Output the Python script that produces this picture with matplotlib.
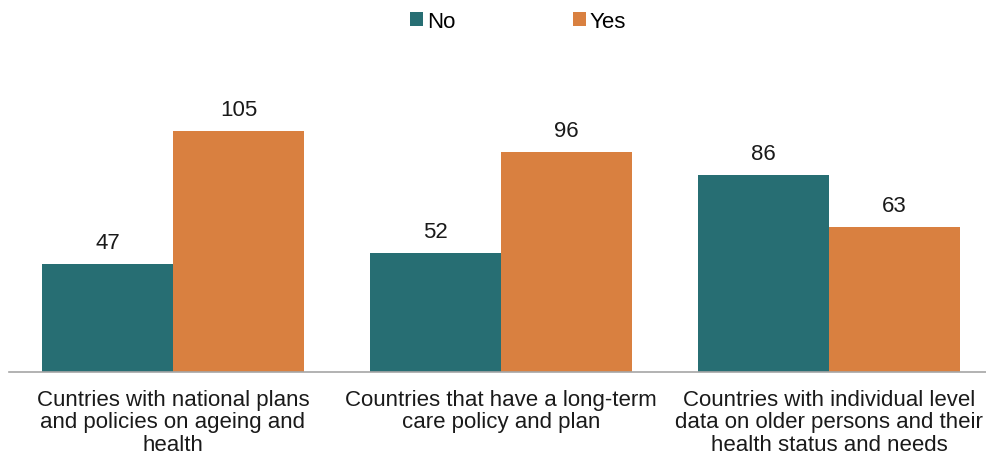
import numpy as np
import matplotlib
matplotlib.use('Agg')
import matplotlib.pyplot as plt

plt.rcParams['font.family'] = ['Liberation Sans', 'DejaVu Sans']

categories = [
    'Cuntries with national plans\nand policies on ageing and\nhealth',
    'Countries that have a long-term\ncare policy and plan',
    'Countries with individual level\ndata on older persons and their\nhealth status and needs',
]
no_vals = [47, 52, 86]
yes_vals = [105, 96, 63]

TEAL = '#276e73'
ORANGE = '#d98040'
FS = 16

W, H = 987, 460
fig = plt.figure(figsize=(W / 100, H / 100), dpi=100)
# axes placed in pixel terms: baseline at y=373, x=-0.5 at px 9, 328 px per category
ax = fig.add_axes([9 / W, 87 / H, 984 / W, 275.4 / H])

x = np.arange(len(categories))
w = 0.4
b1 = ax.bar(x - w / 2, no_vals, w, color=TEAL, label='No')
b2 = ax.bar(x + w / 2, yes_vals, w, color=ORANGE, label='Yes')

for bars in (b1, b2):
    for r in bars:
        ax.annotate(f'{int(r.get_height())}',
                    (r.get_x() + r.get_width() / 2, r.get_height()),
                    xytext=(0, 8), textcoords='offset points',
                    ha='center', va='bottom', fontsize=FS, color='#1a1a1a')

ax.set_xlim(-0.5, 2.5)
ax.set_ylim(0, 120)
ax.set_yticks([])
for s in ('top', 'right', 'left'):
    ax.spines[s].set_visible(False)
ax.spines['bottom'].set_color('#a6a6a6')
ax.spines['bottom'].set_linewidth(1.2)
ax.set_xticks(x)
ax.set_xticklabels(categories, fontsize=FS, color='#1a1a1a', linespacing=1.1)
ax.tick_params(axis='x', length=0, pad=12)

fig.legend(loc='center', bbox_to_anchor=(518 / W, 1 - 22 / H), ncol=2,
           frameon=False, fontsize=FS, handlelength=0.6, handleheight=0.6,
           handletextpad=0.15, columnspacing=5.3)

fig.savefig('out.png', dpi=100)
